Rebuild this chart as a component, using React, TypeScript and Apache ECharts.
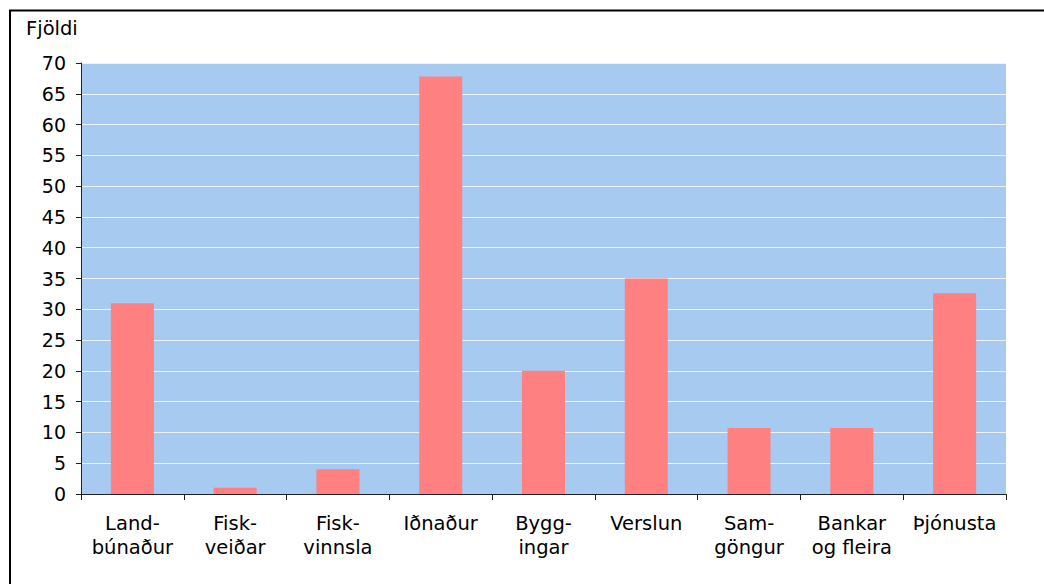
import React, { useEffect, useRef } from "react";
import * as echarts from "echarts";

const categories = [
  "Land-\nbúnaður",
  "Fisk-\nveiðar",
  "Fisk-\nvinnsla",
  "Iðnaður",
  "Bygg-\ningar",
  "Verslun",
  "Sam-\ngöngur",
  "Bankar\nog fleira",
  "Þjónusta",
];
const values = [31, 1, 4, 67.8, 20, 35, 10.7, 10.7, 32.6];
const yAxisName = "Fjöldi";
const yMin = 0;
const yMax = 70;
const yStep = 5;

const FONT = "DejaVu Sans, Verdana, sans-serif";

export default function App() {
  const ref = useRef<HTMLDivElement>(null);
  useEffect(() => {
    if (!ref.current) return;
    const chart = echarts.init(ref.current, null, { renderer: "svg" });
    chart.setOption({
      animation: false,
      backgroundColor: "#ffffff",
      textStyle: { fontFamily: FONT },
      graphic: [
        {
          type: "rect",
          shape: { x: 10, y: 10.5, width: 1200, height: 800 },
          style: { fill: "none", stroke: "#000", lineWidth: 2 },
          z: 10,
        },
        {
          type: "text",
          left: 26,
          top: 18,
          style: { text: yAxisName, fontSize: 19.5, fontFamily: FONT, fill: "#000" },
        },
      ],
      grid: {
        left: 81,
        right: 38,
        top: 63,
        bottom: 90,
        show: true,
        backgroundColor: "#A6CAF0",
        borderWidth: 0,
      },
      xAxis: {
        type: "category",
        data: categories,
        axisLine: { show: true, lineStyle: { color: "#222", width: 1 } },
        axisTick: { show: true, length: 6, alignWithLabel: false, lineStyle: { color: "#222" } },
        axisLabel: {
          color: "#000",
          fontSize: 19.5,
          fontFamily: FONT,
          lineHeight: 24.5,
          margin: 17,
          interval: 0,
        },
      },
      yAxis: {
        type: "value",
        min: yMin,
        max: yMax,
        interval: yStep,
        axisLine: { show: true, lineStyle: { color: "#222", width: 1 } },
        axisTick: { show: true, length: 5, lineStyle: { color: "#222" } },
        axisLabel: { color: "#000", fontSize: 19, fontFamily: FONT, margin: 15 },
        splitLine: { show: true, lineStyle: { color: "#EAF2FC", width: 1 } },
      },
      series: [
        {
          type: "bar",
          data: values,
          barWidth: 43,
          itemStyle: { color: "#FF8080" },
        },
      ],
    });
    return () => chart.dispose();
  }, []);
  return (
    <div
      ref={ref}
      style={{ position: "absolute", left: 0, top: 0, width: 1044, height: 584 }}
    />
  );
}
